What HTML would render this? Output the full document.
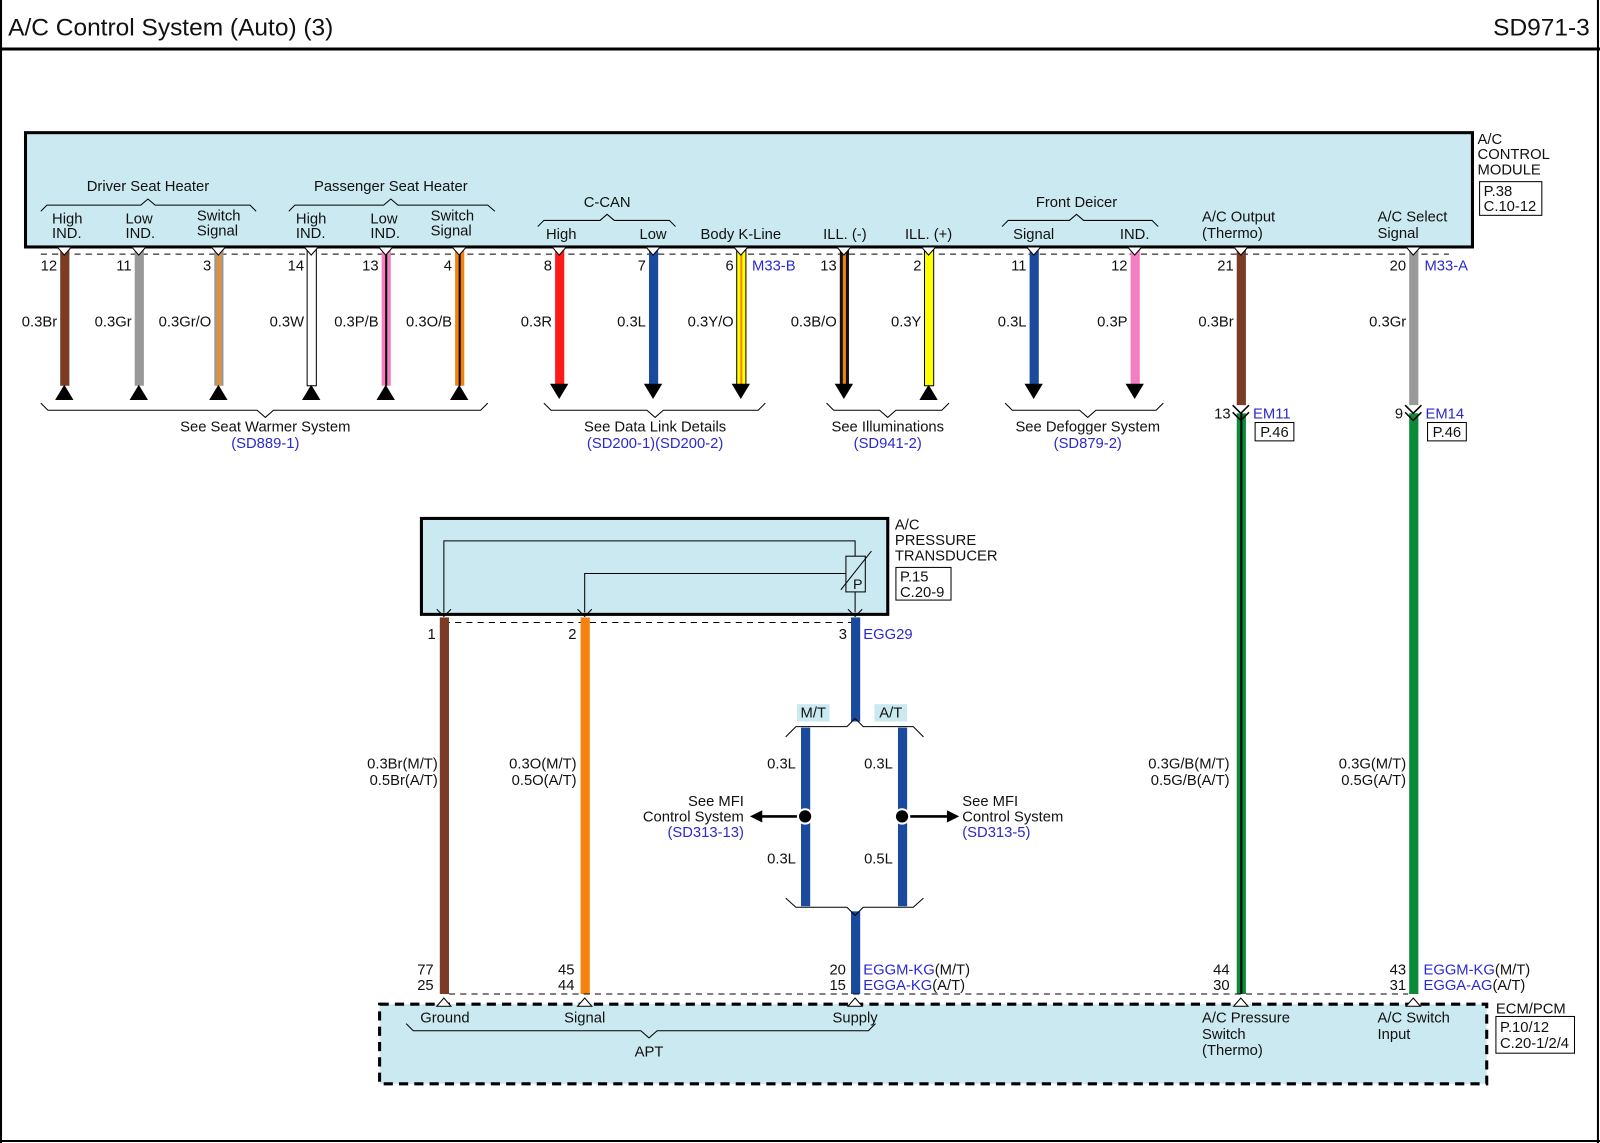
<!DOCTYPE html>
<html><head><meta charset="utf-8"><style>
html,body{margin:0;padding:0;background:#fff}
svg{display:block}
text{font-family:"Liberation Sans",Arial,sans-serif;font-size:14.5px;fill:#111}
.b{fill:#2a2ad0}
.m{text-anchor:middle}
.e{text-anchor:end}
</style></head><body>
<svg width="1600" height="1143" viewBox="0 0 1568 1120" preserveAspectRatio="none" xmlns="http://www.w3.org/2000/svg">
<rect x="0" y="0" width="1568" height="1120" fill="#fff"/>
<line x1="1" y1="0" x2="1" y2="1120" stroke="#000" stroke-width="2"/>
<line x1="1566" y1="0" x2="1566" y2="1120" stroke="#000" stroke-width="2"/>
<line x1="0" y1="1118" x2="1568" y2="1118" stroke="#000" stroke-width="2"/>
<line x1="0" y1="48" x2="1568" y2="48" stroke="#000" stroke-width="3"/>
<text x="8" y="35" style="font-size:24px">A/C Control System (Auto) (3)</text>
<text x="1558" y="35" class="e" style="font-size:24px">SD971-3</text>

<rect x="25" y="130" width="1418" height="112" fill="#cbe9f0" stroke="#000" stroke-width="3"/>
<text x="1448" y="141">A/C</text><text x="1448" y="156">CONTROL</text><text x="1448" y="171">MODULE</text>
<rect x="1450" y="178" width="61" height="33" fill="#fff" stroke="#000"/>
<text x="1454" y="192">P.38</text><text x="1454" y="207">C.10-12</text>

<g fill="none" stroke="#000" stroke-width="1">
<polyline points="40,207 46,201 138,201 145,195 152,201 245,201 251,207"/>
<polyline points="283,207 289,201 376,201 383,195 390,201 478,201 485,207"/>
<polyline points="527,222 533,216 588,216 595,210 602,216 656,216 662,222"/>
<polyline points="982,222 988,216 1048,216 1055,210 1062,216 1129,216 1135,222"/>
</g>
<text x="145" y="187" class="m">Driver Seat Heater</text>
<text x="383" y="187" class="m">Passenger Seat Heater</text>
<text x="595" y="203" class="m">C-CAN</text>
<text x="1055" y="203" class="m">Front Deicer</text>
<text x="51" y="219">High</text><text x="51" y="233">IND.</text>
<text x="123" y="219">Low</text><text x="123" y="233">IND.</text>
<text x="193" y="216">Switch</text><text x="193" y="231">Signal</text>
<text x="290" y="219">High</text><text x="290" y="233">IND.</text>
<text x="363" y="219">Low</text><text x="363" y="233">IND.</text>
<text x="422" y="216">Switch</text><text x="422" y="231">Signal</text>
<text x="550" y="234" class="m">High</text>
<text x="640" y="234" class="m">Low</text>
<text x="726" y="234" class="m">Body K-Line</text>
<text x="828" y="234" class="m">ILL. (-)</text>
<text x="910" y="234" class="m">ILL. (+)</text>
<text x="1013" y="234" class="m">Signal</text>
<text x="1112" y="234" class="m">IND.</text>
<text x="1178" y="217">A/C Output</text><text x="1178" y="233">(Thermo)</text>
<text x="1350" y="217">A/C Select</text><text x="1350" y="233">Signal</text>

<line x1="40" y1="249" x2="1420" y2="249" stroke="#000" stroke-dasharray="6,5"/>

<g>
<rect x="59" y="244" width="9" height="134" fill="#7b3b25"/>
<rect x="132" y="244" width="9" height="134" fill="#999"/>
<rect x="210" y="244" width="9" height="134" fill="#999"/><rect x="212.5" y="244" width="4" height="134" fill="#e8902f"/>
<rect x="301" y="244" width="9" height="134" fill="#fff" stroke="#000" stroke-width="1"/>
<rect x="374" y="244" width="9" height="134" fill="#f47fbf"/><rect x="377.5" y="244" width="2" height="134" fill="#000"/>
<rect x="446" y="244" width="9" height="134" fill="#f5820f"/><rect x="449.5" y="244" width="2" height="134" fill="#000"/>
<rect x="544" y="244" width="9" height="134" fill="#ff1a1a"/>
<rect x="636" y="244" width="9" height="134" fill="#1a4a9e"/>
<rect x="722" y="244" width="9" height="134" fill="#ffff00" stroke="#000" stroke-width="1"/><rect x="725.5" y="244" width="2" height="134" fill="#f5820f"/>
<rect x="823" y="244" width="9" height="134" fill="#111"/><rect x="826" y="244" width="3" height="134" fill="#f5820f"/>
<rect x="906" y="244" width="9" height="134" fill="#ffff00" stroke="#000" stroke-width="1"/>
<rect x="1009" y="244" width="9" height="134" fill="#1a4a9e"/>
<rect x="1108" y="244" width="9" height="134" fill="#f47fbf"/>
<rect x="1212" y="244" width="9" height="154" fill="#7b3b25"/>
<rect x="1381" y="244" width="9" height="154" fill="#999"/>
</g>
<g fill="#fff" stroke="#000" stroke-width="1">
<polygon points="56,242 63,250 70,242"/><polygon points="129,242 136,250 143,242"/><polygon points="207,242 214,250 221,242"/>
<polygon points="298,242 305,250 312,242"/><polygon points="371,242 378,250 385,242"/><polygon points="443,242 450,250 457,242"/>
<polygon points="541,242 548,250 555,242"/><polygon points="633,242 640,250 647,242"/><polygon points="719,242 726,250 733,242"/>
<polygon points="820,242 827,250 834,242"/><polygon points="903,242 910,250 917,242"/><polygon points="1006,242 1013,250 1020,242"/>
<polygon points="1105,242 1112,250 1119,242"/><polygon points="1209,242 1216,250 1223,242"/><polygon points="1378,242 1385,250 1392,242"/>
</g>
<text x="56" y="265" class="e">12</text><text x="129" y="265" class="e">11</text><text x="207" y="265" class="e">3</text>
<text x="298" y="265" class="e">14</text><text x="371" y="265" class="e">13</text><text x="443" y="265" class="e">4</text>
<text x="541" y="265" class="e">8</text><text x="633" y="265" class="e">7</text><text x="719" y="265" class="e">6</text>
<text x="737" y="265" class="b">M33-B</text>
<text x="820" y="265" class="e">13</text><text x="903" y="265" class="e">2</text><text x="1006" y="265" class="e">11</text>
<text x="1105" y="265" class="e">12</text><text x="1209" y="265" class="e">21</text><text x="1378" y="265" class="e">20</text>
<text x="1396" y="265" class="b">M33-A</text>
<text x="56" y="320" class="e">0.3Br</text><text x="129" y="320" class="e">0.3Gr</text><text x="207" y="320" class="e">0.3Gr/O</text>
<text x="298" y="320" class="e">0.3W</text><text x="371" y="320" class="e">0.3P/B</text><text x="443" y="320" class="e">0.3O/B</text>
<text x="541" y="320" class="e">0.3R</text><text x="633" y="320" class="e">0.3L</text><text x="719" y="320" class="e">0.3Y/O</text>
<text x="820" y="320" class="e">0.3B/O</text><text x="903" y="320" class="e">0.3Y</text><text x="1006" y="320" class="e">0.3L</text>
<text x="1105" y="320" class="e">0.3P</text><text x="1209" y="320" class="e">0.3Br</text><text x="1378" y="320" class="e">0.3Gr</text>
<g fill="#000">
<polygon points="54,392 72,392 63,377"/><polygon points="127,392 145,392 136,377"/><polygon points="205,392 223,392 214,377"/>
<polygon points="296,392 314,392 305,377"/><polygon points="369,392 387,392 378,377"/><polygon points="441,392 459,392 450,377"/>
<polygon points="539,376 557,376 548,391"/><polygon points="631,376 649,376 640,391"/><polygon points="717,376 735,376 726,391"/>
<polygon points="818,376 836,376 827,391"/><polygon points="901,392 919,392 910,377"/>
<polygon points="1004,376 1022,376 1013,391"/><polygon points="1103,376 1121,376 1112,391"/>
</g>
<g fill="none" stroke="#000" stroke-width="1">
<polyline points="40,395 47,402 252,402 260,409 268,402 471,402 478,395"/>
<polyline points="533,395 540,402 634,402 642,409 650,402 743,402 750,395"/>
<polyline points="810,395 817,402 862,402 870,409 878,402 923,402 930,395"/>
<polyline points="985,395 992,402 1058,402 1066,409 1074,402 1133,402 1140,395"/>
</g>
<text x="260" y="423" class="m">See Seat Warmer System</text><text x="260" y="439" class="m b">(SD889-1)</text>
<text x="642" y="423" class="m">See Data Link Details</text><text x="642" y="439" class="m b">(SD200-1)(SD200-2)</text>
<text x="870" y="423" class="m">See Illuminations</text><text x="870" y="439" class="m b">(SD941-2)</text>
<text x="1066" y="423" class="m">See Defogger System</text><text x="1066" y="439" class="m b">(SD879-2)</text>

<rect x="1212" y="405" width="9" height="569" fill="#0b8a3a"/><rect x="1215.5" y="405" width="2" height="569" fill="#000"/>
<rect x="1381" y="405" width="9" height="569" fill="#0b8a3a"/>
<g fill="#fff" stroke="#000" stroke-width="1.5">
<polyline points="1208,397 1216,405 1224,397"/><polyline points="1208,404 1216,412 1224,404" fill="none"/>
<polyline points="1377,397 1385,405 1393,397"/><polyline points="1377,404 1385,412 1393,404" fill="none"/>
</g>
<text x="1206" y="410" class="e">13</text><text x="1228" y="410" class="b">EM11</text>
<rect x="1230" y="414" width="38" height="18" fill="#fff" stroke="#000"/><text x="1235" y="428">P.46</text>
<text x="1375" y="410" class="e">9</text><text x="1397" y="410" class="b">EM14</text>
<rect x="1399" y="414" width="38" height="18" fill="#fff" stroke="#000"/><text x="1404" y="428">P.46</text>
<text x="1205" y="753" class="e">0.3G/B(M/T)</text><text x="1205" y="769" class="e">0.5G/B(A/T)</text>
<text x="1378" y="753" class="e">0.3G(M/T)</text><text x="1378" y="769" class="e">0.5G(A/T)</text>

<rect x="413" y="508" width="457" height="94" fill="#cbe9f0" stroke="#000" stroke-width="3"/>
<g fill="none" stroke="#000" stroke-width="1">
<polyline points="435,600 435,530 838,530 838,545"/>
<polyline points="573,600 573,562 829,562"/>
<polyline points="838,580 838,600"/>
<rect x="829" y="545" width="19" height="35" fill="#cbe9f0"/>
<line x1="824" y1="578" x2="854" y2="540"/>
<polyline points="428,597 435,604 442,597"/><polyline points="566,597 573,604 580,597"/><polyline points="831,597 838,604 845,597"/>
</g>
<text x="836" y="577" style="font-size:14px">P</text>
<text x="877" y="519">A/C</text><text x="877" y="534">PRESSURE</text><text x="877" y="549">TRANSDUCER</text>
<rect x="878" y="556" width="54" height="32" fill="#fff" stroke="#000"/>
<text x="882" y="570">P.15</text><text x="882" y="585">C.20-9</text>

<line x1="435" y1="610" x2="838" y2="610" stroke="#000" stroke-dasharray="6,5"/>
<rect x="431" y="605" width="9" height="369" fill="#7b3b25"/>
<rect x="569" y="605" width="9" height="369" fill="#f5820f"/>
<rect x="834" y="605" width="9" height="102" fill="#1a4a9e"/>
<rect x="785" y="713" width="9" height="175" fill="#1a4a9e"/>
<rect x="880" y="713" width="9" height="175" fill="#1a4a9e"/>
<rect x="834" y="893" width="9" height="81" fill="#1a4a9e"/>
<text x="427" y="626" class="e">1</text><text x="565" y="626" class="e">2</text><text x="830" y="626" class="e">3</text>
<text x="846" y="626" class="b">EGG29</text>
<text x="429" y="753" class="e">0.3Br(M/T)</text><text x="429" y="769" class="e">0.5Br(A/T)</text>
<text x="565" y="753" class="e">0.3O(M/T)</text><text x="565" y="769" class="e">0.5O(A/T)</text>

<rect x="781" y="690" width="32" height="17" fill="#cbe9f0"/><text x="797" y="703" class="m">M/T</text>
<rect x="857" y="690" width="32" height="17" fill="#cbe9f0"/><text x="873" y="703" class="m">A/T</text>
<g fill="none" stroke="#000" stroke-width="1">
<polyline points="770,722 780,712 830,712 838,704 846,712 895,712 905,722"/>
<polyline points="770,880 780,889 830,889 838,897 846,889 895,889 905,880"/>
</g>
<text x="780" y="753" class="e">0.3L</text><text x="875" y="753" class="e">0.3L</text>
<text x="780" y="846" class="e">0.3L</text><text x="875" y="846" class="e">0.5L</text>
<circle cx="789" cy="800" r="7" fill="#000" stroke="#fff" stroke-width="2"/>
<circle cx="884" cy="800" r="7" fill="#000" stroke="#fff" stroke-width="2"/>
<line x1="745" y1="800" x2="781" y2="800" stroke="#000" stroke-width="2.5"/>
<polygon points="735,800 747,794 747,806" fill="#000"/>
<line x1="892" y1="800" x2="928" y2="800" stroke="#000" stroke-width="2.5"/>
<polygon points="940,800 928,794 928,806" fill="#000"/>
<text x="729" y="790" class="e">See MFI</text><text x="729" y="805" class="e">Control System</text><text x="729" y="820" class="e b">(SD313-13)</text>
<text x="943" y="790">See MFI</text><text x="943" y="805">Control System</text><text x="943" y="820" class="b">(SD313-5)</text>

<text x="425" y="955" class="e">77</text><text x="425" y="970" class="e">25</text>
<text x="563" y="955" class="e">45</text><text x="563" y="970" class="e">44</text>
<text x="829" y="955" class="e">20</text><text x="829" y="970" class="e">15</text>
<text x="846" y="955"><tspan class="b">EGGM-KG</tspan>(M/T)</text><text x="846" y="970"><tspan class="b">EGGA-KG</tspan>(A/T)</text>
<text x="1205" y="955" class="e">44</text><text x="1205" y="970" class="e">30</text>
<text x="1378" y="955" class="e">43</text><text x="1378" y="970" class="e">31</text>
<text x="1395" y="955"><tspan class="b">EGGM-KG</tspan>(M/T)</text><text x="1395" y="970"><tspan class="b">EGGA-AG</tspan>(A/T)</text>
<line x1="440" y1="974" x2="1380" y2="974" stroke="#000" stroke-dasharray="6,5"/>

<rect x="372" y="984" width="1085" height="78" fill="#cbe9f0" stroke="#000" stroke-width="3" stroke-dasharray="9,6"/>
<g fill="#fff" stroke="#000" stroke-width="1">
<polygon points="428,986 435,978 442,986"/><polygon points="566,986 573,978 580,986"/><polygon points="831,986 838,978 845,986"/>
<polygon points="1209,986 1216,978 1223,986"/><polygon points="1378,986 1385,978 1392,986"/>
</g>
<text x="436" y="1002" class="m">Ground</text><text x="573" y="1002" class="m">Signal</text><text x="838" y="1002" class="m">Supply</text>
<polyline points="398,1003 405,1010 628,1010 636,1017 644,1010 851,1010 858,1003" fill="none" stroke="#000"/>
<text x="636" y="1035" class="m">APT</text>
<text x="1178" y="1002">A/C Pressure</text><text x="1178" y="1018">Switch</text><text x="1178" y="1034">(Thermo)</text>
<text x="1350" y="1002">A/C Switch</text><text x="1350" y="1018">Input</text>
<text x="1466" y="993">ECM/PCM</text>
<rect x="1466" y="996" width="77" height="36" fill="#fff" stroke="#000"/>
<text x="1470" y="1011">P.10/12</text><text x="1470" y="1027">C.20-1/2/4</text>
</svg>
</body></html>
